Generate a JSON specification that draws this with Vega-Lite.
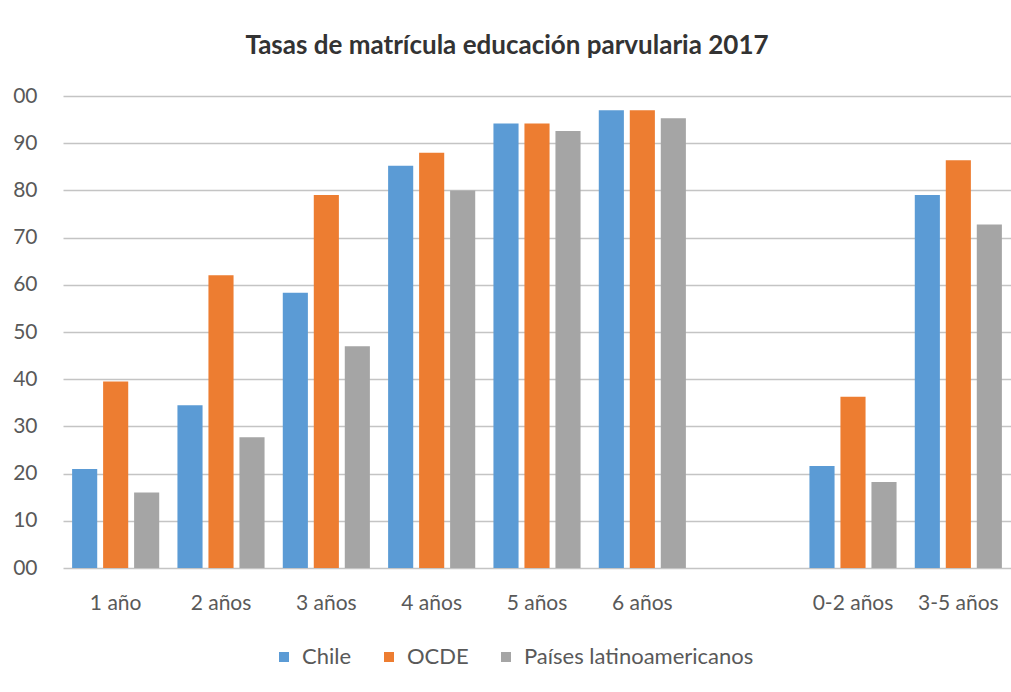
{
  "$schema": "https://vega.github.io/schema/vega-lite/v6.json",
  "width": 948,
  "height": 472,
  "autosize": {"type": "none"},
  "padding": {"left": 63, "top": 96, "right": 0, "bottom": 124},
  "background": "white",
  "title": {
    "text": "Tasas de matrícula educación parvularia 2017",
    "font": "Lato",
    "fontSize": 26,
    "fontWeight": "bold",
    "color": "#333333",
    "anchor": "middle",
    "dx": -30,
    "offset": 26
  },
  "data": {
    "values": [
      {"grupo": "1 año", "serie": "Chile", "valor": 21},
      {"grupo": "1 año", "serie": "OCDE", "valor": 39.5},
      {"grupo": "1 año", "serie": "Países latinoamericanos", "valor": 16},
      {"grupo": "2 años", "serie": "Chile", "valor": 34.5},
      {"grupo": "2 años", "serie": "OCDE", "valor": 62},
      {"grupo": "2 años", "serie": "Países latinoamericanos", "valor": 27.7},
      {"grupo": "3 años", "serie": "Chile", "valor": 58.3},
      {"grupo": "3 años", "serie": "OCDE", "valor": 79},
      {"grupo": "3 años", "serie": "Países latinoamericanos", "valor": 47},
      {"grupo": "4 años", "serie": "Chile", "valor": 85.2},
      {"grupo": "4 años", "serie": "OCDE", "valor": 88},
      {"grupo": "4 años", "serie": "Países latinoamericanos", "valor": 80},
      {"grupo": "5 años", "serie": "Chile", "valor": 94.2},
      {"grupo": "5 años", "serie": "OCDE", "valor": 94.2},
      {"grupo": "5 años", "serie": "Países latinoamericanos", "valor": 92.6},
      {"grupo": "6 años", "serie": "Chile", "valor": 97},
      {"grupo": "6 años", "serie": "OCDE", "valor": 97},
      {"grupo": "6 años", "serie": "Países latinoamericanos", "valor": 95.3},
      {"grupo": "0-2 años", "serie": "Chile", "valor": 21.6},
      {"grupo": "0-2 años", "serie": "OCDE", "valor": 36.3},
      {"grupo": "0-2 años", "serie": "Países latinoamericanos", "valor": 18.2},
      {"grupo": "3-5 años", "serie": "Chile", "valor": 79},
      {"grupo": "3-5 años", "serie": "OCDE", "valor": 86.4},
      {"grupo": "3-5 años", "serie": "Países latinoamericanos", "valor": 72.8}
    ]
  },
  "mark": {"type": "bar"},
  "encoding": {
    "x": {
      "field": "grupo",
      "type": "nominal",
      "sort": null,
      "scale": {
        "domain": ["1 año", "2 años", "3 años", "4 años", "5 años", "6 años", " ", "0-2 años", "3-5 años"],
        "paddingInner": 0.173,
        "paddingOuter": 0.0865
      },
      "axis": {
        "title": null,
        "labelAngle": 0,
        "domain": false,
        "ticks": false,
        "labelFont": "Lato",
        "labelFontSize": 21,
        "labelColor": "#595959",
        "labelPadding": 24
      }
    },
    "xOffset": {
      "field": "serie",
      "type": "nominal",
      "sort": ["Chile", "OCDE", "Países latinoamericanos"],
      "scale": {"paddingInner": 0.19, "paddingOuter": 0}
    },
    "y": {
      "field": "valor",
      "type": "quantitative",
      "scale": {"domain": [0, 100], "nice": false},
      "axis": {
        "title": null,
        "values": [0, 10, 20, 30, 40, 50, 60, 70, 80, 90, 100],
        "labelExpr": "datum.value == 100 || datum.value == 0 ? '00' : datum.label",
        "domain": false,
        "ticks": false,
        "grid": true,
        "gridColor": "#c4c4c4",
        "gridWidth": 1.6,
        "labelFont": "Lato",
        "labelFontSize": 21,
        "labelColor": "#595959",
        "labelPadding": 26
      }
    },
    "color": {
      "field": "serie",
      "type": "nominal",
      "sort": ["Chile", "OCDE", "Países latinoamericanos"],
      "scale": {
        "domain": ["Chile", "OCDE", "Países latinoamericanos"],
        "range": ["#5b9bd5", "#ed7d31", "#a5a5a5"]
      },
      "legend": {
        "title": null,
        "orient": "none",
        "direction": "horizontal",
        "legendX": 210,
        "legendY": 550,
        "symbolType": "square",
        "symbolSize": 100,
        "symbolStrokeWidth": 0,
        "labelFont": "Lato",
        "labelFontSize": 22,
        "labelColor": "#595959",
        "labelOffset": 7,
        "labelLimit": 400,
        "columnPadding": 26
      }
    }
  },
  "config": {
    "view": {"stroke": null}
  }
}
